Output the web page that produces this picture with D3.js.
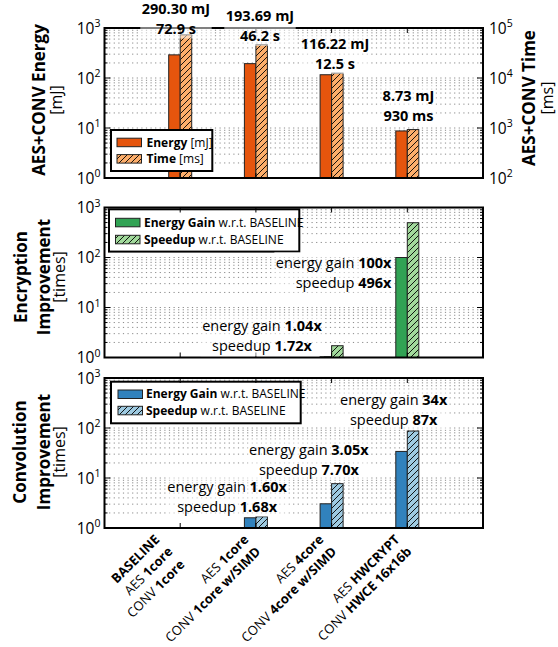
<!DOCTYPE html>
<html><head><meta charset="utf-8">
<script src="https://cdn.jsdelivr.net/npm/d3@7"></script>
<style>
body{margin:0;background:#fff}
#wrap{position:relative;width:558px;height:647px}
svg{display:block;position:absolute;left:0;top:0}
text{font-family:"Open Sans",sans-serif;fill:#000}
.xl{position:absolute;white-space:nowrap;font-family:"Open Sans",sans-serif;font-size:13px;line-height:13px;color:#000;transform-origin:0 0;transform:rotate(-45deg) translate(-100%,-80%)}
</style>
</head><body>
<div id="wrap"><svg id="c" width="558" height="647"></svg><div id="xlabels"></div></div>
<script>
// ---------------- DATA ----------------
const categories = ["BASELINE", "AES 1core", "AES 4core", "AES HWCRYPT"];
const xLabelLines = [
  [[["BASELINE",1]], [["AES ",0],["1core",1]], [["CONV ",0],["1core",1]]],
  [[["AES ",0],["1core",1]], [["CONV ",0],["1core w/SIMD",1]]],
  [[["AES ",0],["4core",1]], [["CONV ",0],["4core w/SIMD",1]]],
  [[["AES ",0],["HWCRYPT",1]], [["CONV ",0],["HWCE 16x16b",1]]]
];
const energyMJ = [290.30, 193.69, 116.22, 8.73];
const timeMs = [72900, 46200, 12500, 930];
const energyLabels = ["290.30 mJ", "193.69 mJ", "116.22 mJ", "8.73 mJ"];
const timeLabels = ["72.9 s", "46.2 s", "12.5 s", "930 ms"];
const encEnergyGain = [1, 1, 1.04, 100];
const encSpeedup = [1, 1, 1.72, 496];
const convEnergyGain = [1, 1.60, 3.05, 34];
const convSpeedup = [1, 1.68, 7.70, 87];
const encGainLabels = [null, null, "1.04x", "100x"];
const encSpeedLabels = [null, null, "1.72x", "496x"];
const convGainLabels = [null, "1.60x", "3.05x", "34x"];
const convSpeedLabels = [null, "1.68x", "7.70x", "87x"];
const leftExps = [0, 1, 2, 3];
const rightExpsTop = [2, 3, 4, 5];

// ---------------- LAYOUT ----------------
const svg = d3.select("#c");
const L = 104.5, R = 483, PH = 150;
const panelTops = [28, 207.5, 378];
const barW = 11.5;
const AFS = 14.5, ALH = 19.8;   // annotation font size / line spacing
const x = d3.scaleLinear().domain([0, 5]).range([L, R]);
const colors = {
  energy: "#e6550d", time: "#fdae6b",
  encE: "#31a354", encS: "#a1d99b",
  convE: "#3182bd", convS: "#9ecae1"
};
const defs = svg.append("defs");
function hatch(id, color) {
  const s = 6;
  const p = defs.append("pattern").attr("id", id).attr("patternUnits", "userSpaceOnUse")
    .attr("width", s).attr("height", s);
  p.append("rect").attr("width", s).attr("height", s).attr("fill", color);
  p.append("path").attr("d", `M-1,1 L1,-1 M0,${s} L${s},0 M${s-1},${s+1} L${s+1},${s-1}`)
    .attr("stroke", "#000").attr("stroke-width", 0.9);
}
hatch("hTime", colors.time); hatch("hEnc", colors.encS); hatch("hConv", colors.convS);

function logTicks(lo, hi) {
  const out = [];
  for (let e = Math.log10(lo); e < Math.log10(hi); e++)
    for (let k = 1; k <= 9; k++) out.push({v: k * Math.pow(10, e), major: k === 1});
  out.push({v: hi, major: true});
  return out;
}

function panelBase(top, yScale) {
  const g = svg.append("g");
  const ticks = logTicks(yScale.domain()[0], yScale.domain()[1]);
  g.selectAll(".grid").data(ticks.filter(t => t.v > yScale.domain()[0] && t.v < yScale.domain()[1]))
    .join("line").attr("x1", L).attr("x2", R)
    .attr("y1", d => yScale(d.v)).attr("y2", d => yScale(d.v))
    .attr("stroke", "#8a8a8a").attr("stroke-width", 1).attr("stroke-dasharray", "1.2,3.4");
  return {g};
}

function frame(top, yScale, yRight) {
  const bottom = top + PH;
  const g = svg.append("g");
  const ticks = logTicks(yScale.domain()[0], yScale.domain()[1]);
  g.selectAll(".tl").data(ticks).join("line")
    .attr("x1", L).attr("x2", d => L + (d.major ? 6 : 3))
    .attr("y1", d => yScale(d.v)).attr("y2", d => yScale(d.v))
    .attr("stroke", "#000").attr("stroke-width", 1);
  const rs = yRight || yScale;
  const rticks = logTicks(rs.domain()[0], rs.domain()[1]);
  g.selectAll(".tr").data(rticks).join("line")
    .attr("x1", R).attr("x2", d => R - (d.major ? 6 : 3))
    .attr("y1", d => rs(d.v)).attr("y2", d => rs(d.v))
    .attr("stroke", "#000").attr("stroke-width", 1);
  g.selectAll(".tx").data(categories).join("line")
    .attr("x1", (d, i) => x(i + 1)).attr("x2", (d, i) => x(i + 1))
    .attr("y1", bottom).attr("y2", bottom - 5).attr("stroke", "#000").attr("stroke-width", 1);
  g.selectAll(".tx2").data(categories).join("line")
    .attr("x1", (d, i) => x(i + 1)).attr("x2", (d, i) => x(i + 1))
    .attr("y1", top).attr("y2", top + 5).attr("stroke", "#000").attr("stroke-width", 1);
  g.append("rect").attr("x", L).attr("y", top).attr("width", R - L).attr("height", PH)
    .attr("fill", "none").attr("stroke", "#000").attr("stroke-width", 2);
}

function tickLabels(yScale, exps, xPos, anchor) {
  exps.forEach(e => {
    const t = svg.append("text").attr("x", xPos).attr("y", yScale(Math.pow(10, e)) + 5.5)
      .attr("text-anchor", anchor).style("font-size", "15.5px");
    t.append("tspan").text("10");
    t.append("tspan").attr("dy", -6.5).style("font-size", "10.5px").text(e);
  });
}

function bars(g, yScale, vals, fill, offset) {
  const y0 = yScale.domain()[0];
  g.selectAll(null).data(vals.map((v, i) => ({v, i})).filter(d => d.v > y0)).join("rect")
    .attr("x", d => x(d.i + 1) + offset).attr("width", barW)
    .attr("y", d => yScale(d.v)).attr("height", d => yScale(y0) - yScale(d.v))
    .attr("fill", fill).attr("stroke", "#222").attr("stroke-width", 1);
}

// multi-line annotation drawn as ONE text element (lines are tspans)
function annot(px, py, lines, anchor, fs, lh) {
  const g = svg.append("g");
  const t = g.append("text").attr("x", px).attr("y", py).attr("text-anchor", anchor)
    .style("font-size", fs + "px");
  lines.forEach((segs, k) => {
    const line = t.append("tspan").attr("x", px).attr("dy", k === 0 ? 0 : lh);
    segs.forEach(s => line.append("tspan").text(s[0]).style("font-weight", s[1] ? 700 : 400));
  });
  const b = t.node().getBBox();
  g.insert("rect", ":first-child").attr("x", b.x - 1.5).attr("y", b.y - 1).attr("width", b.width + 3)
    .attr("height", b.height + 2).attr("fill", "#fff").attr("fill-opacity", 0.5);
}

function legend(bx, by, bw, bh, items, textX, rowYs, patchX) {
  const g = svg.append("g");
  g.append("rect").attr("x", bx).attr("y", by).attr("width", bw).attr("height", bh)
    .attr("fill", "#fff").attr("stroke", "#000").attr("stroke-width", 2);
  items.forEach((it, k) => {
    g.append("rect").attr("x", patchX).attr("y", rowYs[k]).attr("width", 24.5).attr("height", 8.5)
      .attr("fill", it.fill).attr("stroke", "#222").attr("stroke-width", 1);
    const t = g.append("text").attr("x", textX).attr("y", rowYs[k] + 8.3).style("font-size", "12px");
    it.segs.forEach(s => t.append("tspan").text(s[0]).style("font-weight", s[1] ? 700 : 400));
  });
}

function yTitle(cy, lines) {
  lines.forEach(l => {
    const t = svg.append("text").attr("transform", `translate(${l.bx},${cy}) rotate(-90)`)
      .attr("text-anchor", "middle").style("font-size", l.fs + "px");
    l.segs.forEach(s => t.append("tspan").text(s[0]).style("font-weight", s[1] ? 700 : 400));
  });
}

// ---------------- PANEL 1 ----------------
const y1 = d3.scaleLog().domain([1, 1000]).range([panelTops[0] + PH, panelTops[0]]);
const y1r = d3.scaleLog().domain([100, 100000]).range([panelTops[0] + PH, panelTops[0]]);
const p1 = panelBase(panelTops[0], y1);
bars(p1.g, y1, energyMJ, colors.energy, -barW);
bars(p1.g, y1r, timeMs, "url(#hTime)", 0);
legend(111, 130, 101.3, 41, [
  {fill: colors.energy, segs: [["Energy", 1], [" [mJ]", 0]]},
  {fill: "url(#hTime)", segs: [["Time", 1], [" [ms]", 0]]}
], 146.5, [138.2, 154.6], 117);
frame(panelTops[0], y1, y1r);
const topAnchors = [[0.944, 77600], [2.054, 55000], [3.045, 15140], [4.016, 1400]];
energyLabels.forEach((lab, i) => {
  const a = topAnchors[i];
  annot(x(a[0]), y1r(a[1]) - ALH, [[[lab, 1]], [[timeLabels[i], 1]]], "middle", AFS, ALH);
});
tickLabels(y1, leftExps, 100.5, "end");
tickLabels(y1r, rightExpsTop, 489, "start");
yTitle(100, [
  {bx: 45, fs: 17, segs: [["AES+CONV Energy", 1]]},
  {bx: 61.5, fs: 16, segs: [["[mJ]", 0]]}
]);
yTitle(98, [
  {bx: 535, fs: 17, segs: [["AES+CONV Time", 1]]},
  {bx: 553, fs: 16, segs: [["[ms]", 0]]}
]);

// ---------------- PANEL 2 ----------------
const y2 = d3.scaleLog().domain([1, 1000]).range([panelTops[1] + PH, panelTops[1]]);
const p2 = panelBase(panelTops[1], y2);
bars(p2.g, y2, encEnergyGain, colors.encE, -barW);
bars(p2.g, y2, encSpeedup, "url(#hEnc)", 0);
legend(109, 209.3, 190.3, 42.3, [
  {fill: colors.encE, segs: [["Energy Gain", 1], [" w.r.t. BASELINE", 0]]},
  {fill: "url(#hEnc)", segs: [["Speedup", 1], [" w.r.t. BASELINE", 0]]}
], 144, [218.3, 235.3], 115.5);
frame(panelTops[1], y2);
const encAnchors = [null, null, [2.08, 3.16, "middle"], [3.79, 58.6, "end"]];
encAnchors.forEach((a, i) => {
  if (!a) return;
  annot(x(a[0]), y2(a[1]) - (ALH - 17.5) / 2, [[["energy gain ", 0], [encGainLabels[i], 1]], [["speedup ", 0], [encSpeedLabels[i], 1]]], a[2], AFS, ALH);
});
tickLabels(y2, leftExps, 100.5, "end");
yTitle(277, [
  {bx: 27, fs: 17, segs: [["Encryption", 1]]},
  {bx: 50, fs: 17, segs: [["Improvement", 1]]},
  {bx: 65, fs: 16, segs: [["[times]", 0]]}
]);

// ---------------- PANEL 3 ----------------
const y3 = d3.scaleLog().domain([1, 1000]).range([panelTops[2] + PH, panelTops[2]]);
const p3 = panelBase(panelTops[2], y3);
bars(p3.g, y3, convEnergyGain, colors.convE, -barW);
bars(p3.g, y3, convSpeedup, "url(#hConv)", 0);
legend(111, 381.7, 189.7, 41.6, [
  {fill: colors.convE, segs: [["Energy Gain", 1], [" w.r.t. BASELINE", 0]]},
  {fill: "url(#hConv)", segs: [["Speedup", 1], [" w.r.t. BASELINE", 0]]}
], 146, [390, 406.3], 118);
frame(panelTops[2], y3);
const convAnchors = [null, [1.62, 4.97, "middle"], [2.70, 27.3, "middle"], [3.82, 273, "middle"]];
convAnchors.forEach((a, i) => {
  if (!a) return;
  annot(x(a[0]), y3(a[1]) - (ALH - 17.5) / 2, [[["energy gain ", 0], [convGainLabels[i], 1]], [["speedup ", 0], [convSpeedLabels[i], 1]]], a[2], AFS, ALH);
});
tickLabels(y3, leftExps, 100.5, "end");
yTitle(452, [
  {bx: 26, fs: 17, segs: [["Convolution", 1]]},
  {bx: 50, fs: 17, segs: [["Improvement", 1]]},
  {bx: 64.5, fs: 16, segs: [["[times]", 0]]}
]);

// ---------------- X LABELS (HTML, rotated 45°) ----------------
const xb = panelTops[2] + PH;
const C45 = Math.SQRT1_2;
const xl = d3.select("#xlabels");
xLabelLines.forEach((lines, i) => {
  const n = lines.length, lh = 17.5;
  const px = x(i + 1) - (n - 1) * lh * C45 + 5;
  const py = xb + 12;
  lines.forEach((segs, k) => {
    const ex = px + k * lh * C45, ey = py + k * lh * C45;
    const d = xl.append("div").attr("class", "xl").style("left", ex + "px").style("top", ey + "px");
    segs.forEach(s => d.append("span").text(s[0]).style("font-weight", s[1] ? 700 : 400));
  });
});
</script>
</body></html>
